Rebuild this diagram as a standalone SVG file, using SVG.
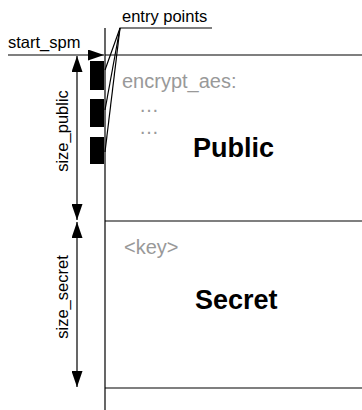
<svg xmlns="http://www.w3.org/2000/svg" width="362" height="410" viewBox="0 0 362 410">
<defs>
<marker id="ah" viewBox="0 0 16 11" refX="16" refY="5.5" markerWidth="16" markerHeight="11" markerUnits="userSpaceOnUse" orient="auto-start-reverse">
<path d="M0,0 L16,5.5 L0,11 Z" fill="#000"/>
</marker>
<style>
.ln{stroke:#000;stroke-width:1.2;fill:none}
.lbl{font-family:"Liberation Sans",Arial,sans-serif;font-size:16.5px;fill:#000}
.gray{font-family:"Liberation Sans",Arial,sans-serif;font-size:20px;fill:#999}
.big{font-family:"Liberation Sans",Arial,sans-serif;font-size:27px;font-weight:bold;fill:#000}
</style>
</defs>
<rect width="362" height="410" fill="#fff"/>
<g id="memory">
<line class="ln" x1="105" y1="28" x2="105" y2="410"/>
<line class="ln" x1="105" y1="221" x2="362" y2="221"/>
<line class="ln" x1="105" y1="388" x2="362" y2="388"/>
<line class="ln" x1="105" y1="55" x2="362" y2="55"/>
</g>
<g id="public">
<text class="gray" x="122" y="88">encrypt_aes:</text>
<text class="gray" x="139" y="112">…</text>
<text class="gray" x="139" y="134">…</text>
<text class="big" x="193" y="157">Public</text>
</g>
<g id="secret">
<text class="gray" x="124" y="254">&lt;key&gt;</text>
<text class="big" x="195" y="309">Secret</text>
</g>
<g id="entry-blocks" fill="#000">
<rect x="90" y="61" width="14" height="29"/>
<rect x="90" y="99" width="14" height="28"/>
<rect x="90" y="137" width="14" height="27"/>
</g>
<g id="entry-label">
<text class="lbl" x="122" y="22">entry points</text>
</g>
<g id="start-label">
<text class="lbl" x="8" y="48">start_spm</text>
</g>
<g id="size-public-label">
<text class="lbl" transform="translate(68,131) rotate(-90)" text-anchor="middle">size_public</text>
</g>
<g id="size-secret-label">
<text class="lbl" transform="translate(68,297) rotate(-90)" text-anchor="middle">size_secret</text>
</g>
<g id="connectors">
<line class="ln" x1="8" y1="55" x2="104" y2="55" marker-end="url(#ah)"/>
<line class="ln" x1="77" y1="56" x2="77" y2="220" marker-start="url(#ah)" marker-end="url(#ah)"/>
<line class="ln" x1="77" y1="222" x2="77" y2="387" marker-start="url(#ah)" marker-end="url(#ah)"/>
<polyline class="ln" points="212,28 120,28 105,70"/>
<line class="ln" x1="120" y1="28" x2="105" y2="110"/>
<line class="ln" x1="120" y1="28" x2="105" y2="152"/>
</g>
</svg>
